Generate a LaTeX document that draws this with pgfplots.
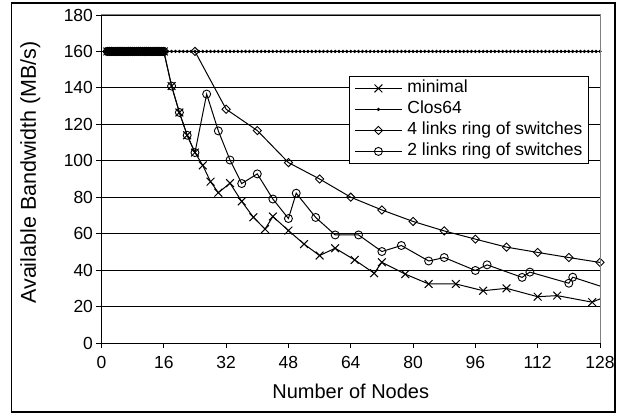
\documentclass[border=0pt]{standalone}
\usepackage{fontspec}
\setmainfont{Liberation Sans}
\usepackage{pgfplots}
\pgfplotsset{compat=1.18}
% longer line samples in the legend
\pgfplotsset{wide legend/.style={legend image code/.code={%
  \draw[mark repeat=2,mark phase=2,##1]
    plot coordinates {(0pt,0pt)(23.5pt,0pt)(47pt,0pt)};}}}

% bandwidth per node for each topology
\pgfplotstableread{
n bw
1.5 160
2 160
2.5 160
3 160
3.5 160
4 160
4.5 160
5 160
5.5 160
6 160
6.5 160
7 160
7.5 160
8 160
8.5 160
9 160
9.5 160
10 160
10.5 160
11 160
11.5 160
12 160
12.5 160
13 160
13.5 160
14 160
14.5 160
15 160
15.5 160
16 160
18 141
20 126.5
22 114
24 104.5
26 97.5
28 88.5
30 82.5
33 87.7
36 77.7
39 69
42 62.5
44 69.4
48 61.7
52 54.3
56 48
60 52
65 45.6
70 38.3
72 44.3
78 37.8
84 32.4
91 32.4
98 28.7
104 30
112 25.4
117 26
126 22.4
130 26
}\minimal

\pgfplotstableread{
n bw
1.5 160
2 160
2.5 160
3 160
3.5 160
4 160
4.5 160
5 160
5.5 160
6 160
6.5 160
7 160
7.5 160
8 160
8.5 160
9 160
9.5 160
10 160
10.5 160
11 160
11.5 160
12 160
12.5 160
13 160
13.5 160
14 160
14.5 160
15 160
15.5 160
16 160
24 160
32 128.3
40 116.6
48 99
56 90
64 80
72 73
80 66.7
88 61.5
96 57
104 52.6
112 49.7
120 46.9
128 44.2
}\fourlinks

\pgfplotstableread{
n bw
1.5 160
2 160
2.5 160
3 160
3.5 160
4 160
4.5 160
5 160
5.5 160
6 160
6.5 160
7 160
7.5 160
8 160
8.5 160
9 160
9.5 160
10 160
10.5 160
11 160
11.5 160
12 160
12.5 160
13 160
13.5 160
14 160
14.5 160
15 160
15.5 160
16 160
18 141
20 126.5
22 114
24 104.5
27 136.6
30 116.4
33 100.4
36 87.5
40 92.8
44 79
48 68.3
50 82.2
55 68.9
60 59.3
66 59.3
72 50.2
77 53.5
84 45
88 46.9
96 39.8
99 42.9
108 36
110 38.9
120 32.8
121 36.1
132 28.5
}\twolinks

\begin{document}
\begin{tikzpicture}[x=1pt,y=1pt]
\useasboundingbox (-101.5,-76) rectangle (524.5,343);
\draw[black, line width=1.3pt] (-89.8,-69) rectangle (513.5,340);
\begin{axis}[
  at={(0,0)}, anchor=south west,
  scale only axis, width=498.5pt, height=328pt,
  xmin=0, xmax=128, ymin=0, ymax=180,
  xtick={0,16,...,128}, ytick={0,20,...,180},
  axis x line*=bottom, axis y line*=left,
  axis line style={-, black, line width=0.9pt},
  tick align=outside, major tick length=5pt,
  tick style={black, line width=0.9pt},
  ymajorgrids, grid style={black, line width=0.8pt},
  /pgf/number format/assume math mode=true,
  ticklabel style={font=\fontsize{17.5}{20}\selectfont},
  xticklabel style={yshift=-5pt},
  xlabel={Number of Nodes},
  ylabel={Available Bandwidth (MB/s)},
  xlabel style={at={(axis description cs:0.5,-0.148)}, anchor=center,
    font=\fontsize{20}{24}\selectfont},
  ylabel style={at={(axis description cs:-0.143,0.52)}, anchor=center,
    font=\fontsize{21.5}{24}\selectfont},
  clip mode=individual,
  legend style={at={(0.4965,0.814)}, anchor=north west, draw=black,
    line width=0.8pt, font=\fontsize{17.5}{20}\selectfont,
    inner xsep=5pt, inner ysep=4pt, row sep=5pt,
    nodes={inner xsep=1pt, inner ysep=0pt, text height=12.5pt, text depth=3.5pt},
    /tikz/every odd column/.append style={column sep=4pt}},
  legend cell align=left,
  every axis plot/.append style={black, line width=1pt},
]
\addplot[sharp plot, mark=x, mark size=5.5pt, mark options={line width=1pt}, wide legend]
  table[x=n, y=bw] {\minimal};
\addlegendentry{minimal}
\addplot[sharp plot, mark=*, mark size=1.1pt, wide legend] coordinates {
(1,160)(2,160)(3,160)(4,160)(5,160)(6,160)(7,160)(8,160)(9,160)(10,160)
(11,160)(12,160)(13,160)(14,160)(15,160)(16,160)(17,160)(18,160)(19,160)(20,160)
(21,160)(22,160)(23,160)(24,160)(25,160)(26,160)(27,160)(28,160)(29,160)(30,160)
(31,160)(32,160)(33,160)(34,160)(35,160)(36,160)(37,160)(38,160)(39,160)(40,160)
(41,160)(42,160)(43,160)(44,160)(45,160)(46,160)(47,160)(48,160)(49,160)(50,160)
(51,160)(52,160)(53,160)(54,160)(55,160)(56,160)(57,160)(58,160)(59,160)(60,160)
(61,160)(62,160)(63,160)(64,160)(65,160)(66,160)(67,160)(68,160)(69,160)(70,160)
(71,160)(72,160)(73,160)(74,160)(75,160)(76,160)(77,160)(78,160)(79,160)(80,160)
(81,160)(82,160)(83,160)(84,160)(85,160)(86,160)(87,160)(88,160)(89,160)(90,160)
(91,160)(92,160)(93,160)(94,160)(95,160)(96,160)(97,160)(98,160)(99,160)(100,160)
(101,160)(102,160)(103,160)(104,160)(105,160)(106,160)(107,160)(108,160)(109,160)(110,160)
(111,160)(112,160)(113,160)(114,160)(115,160)(116,160)(117,160)(118,160)(119,160)(120,160)
(121,160)(122,160)(123,160)(124,160)(125,160)(126,160)(127,160)(128,160)
};
\addlegendentry{Clos64}
\addplot[sharp plot, mark=square, mark size=2.9pt, mark options={rotate=45, line width=0.9pt}, wide legend]
  table[x=n, y=bw] {\fourlinks};
\addlegendentry{4 links ring of switches}
\addplot[sharp plot, mark=o, mark size=4pt, mark options={line width=0.9pt}, wide legend]
  table[x=n, y=bw] {\twolinks};
\addlegendentry{2 links ring of switches}
% plot-area border on the top and right sides
\draw[gray, line width=1pt] (rel axis cs:0,1) -- (rel axis cs:1,1) -- (rel axis cs:1,0);
\end{axis}
\end{tikzpicture}
\end{document}
